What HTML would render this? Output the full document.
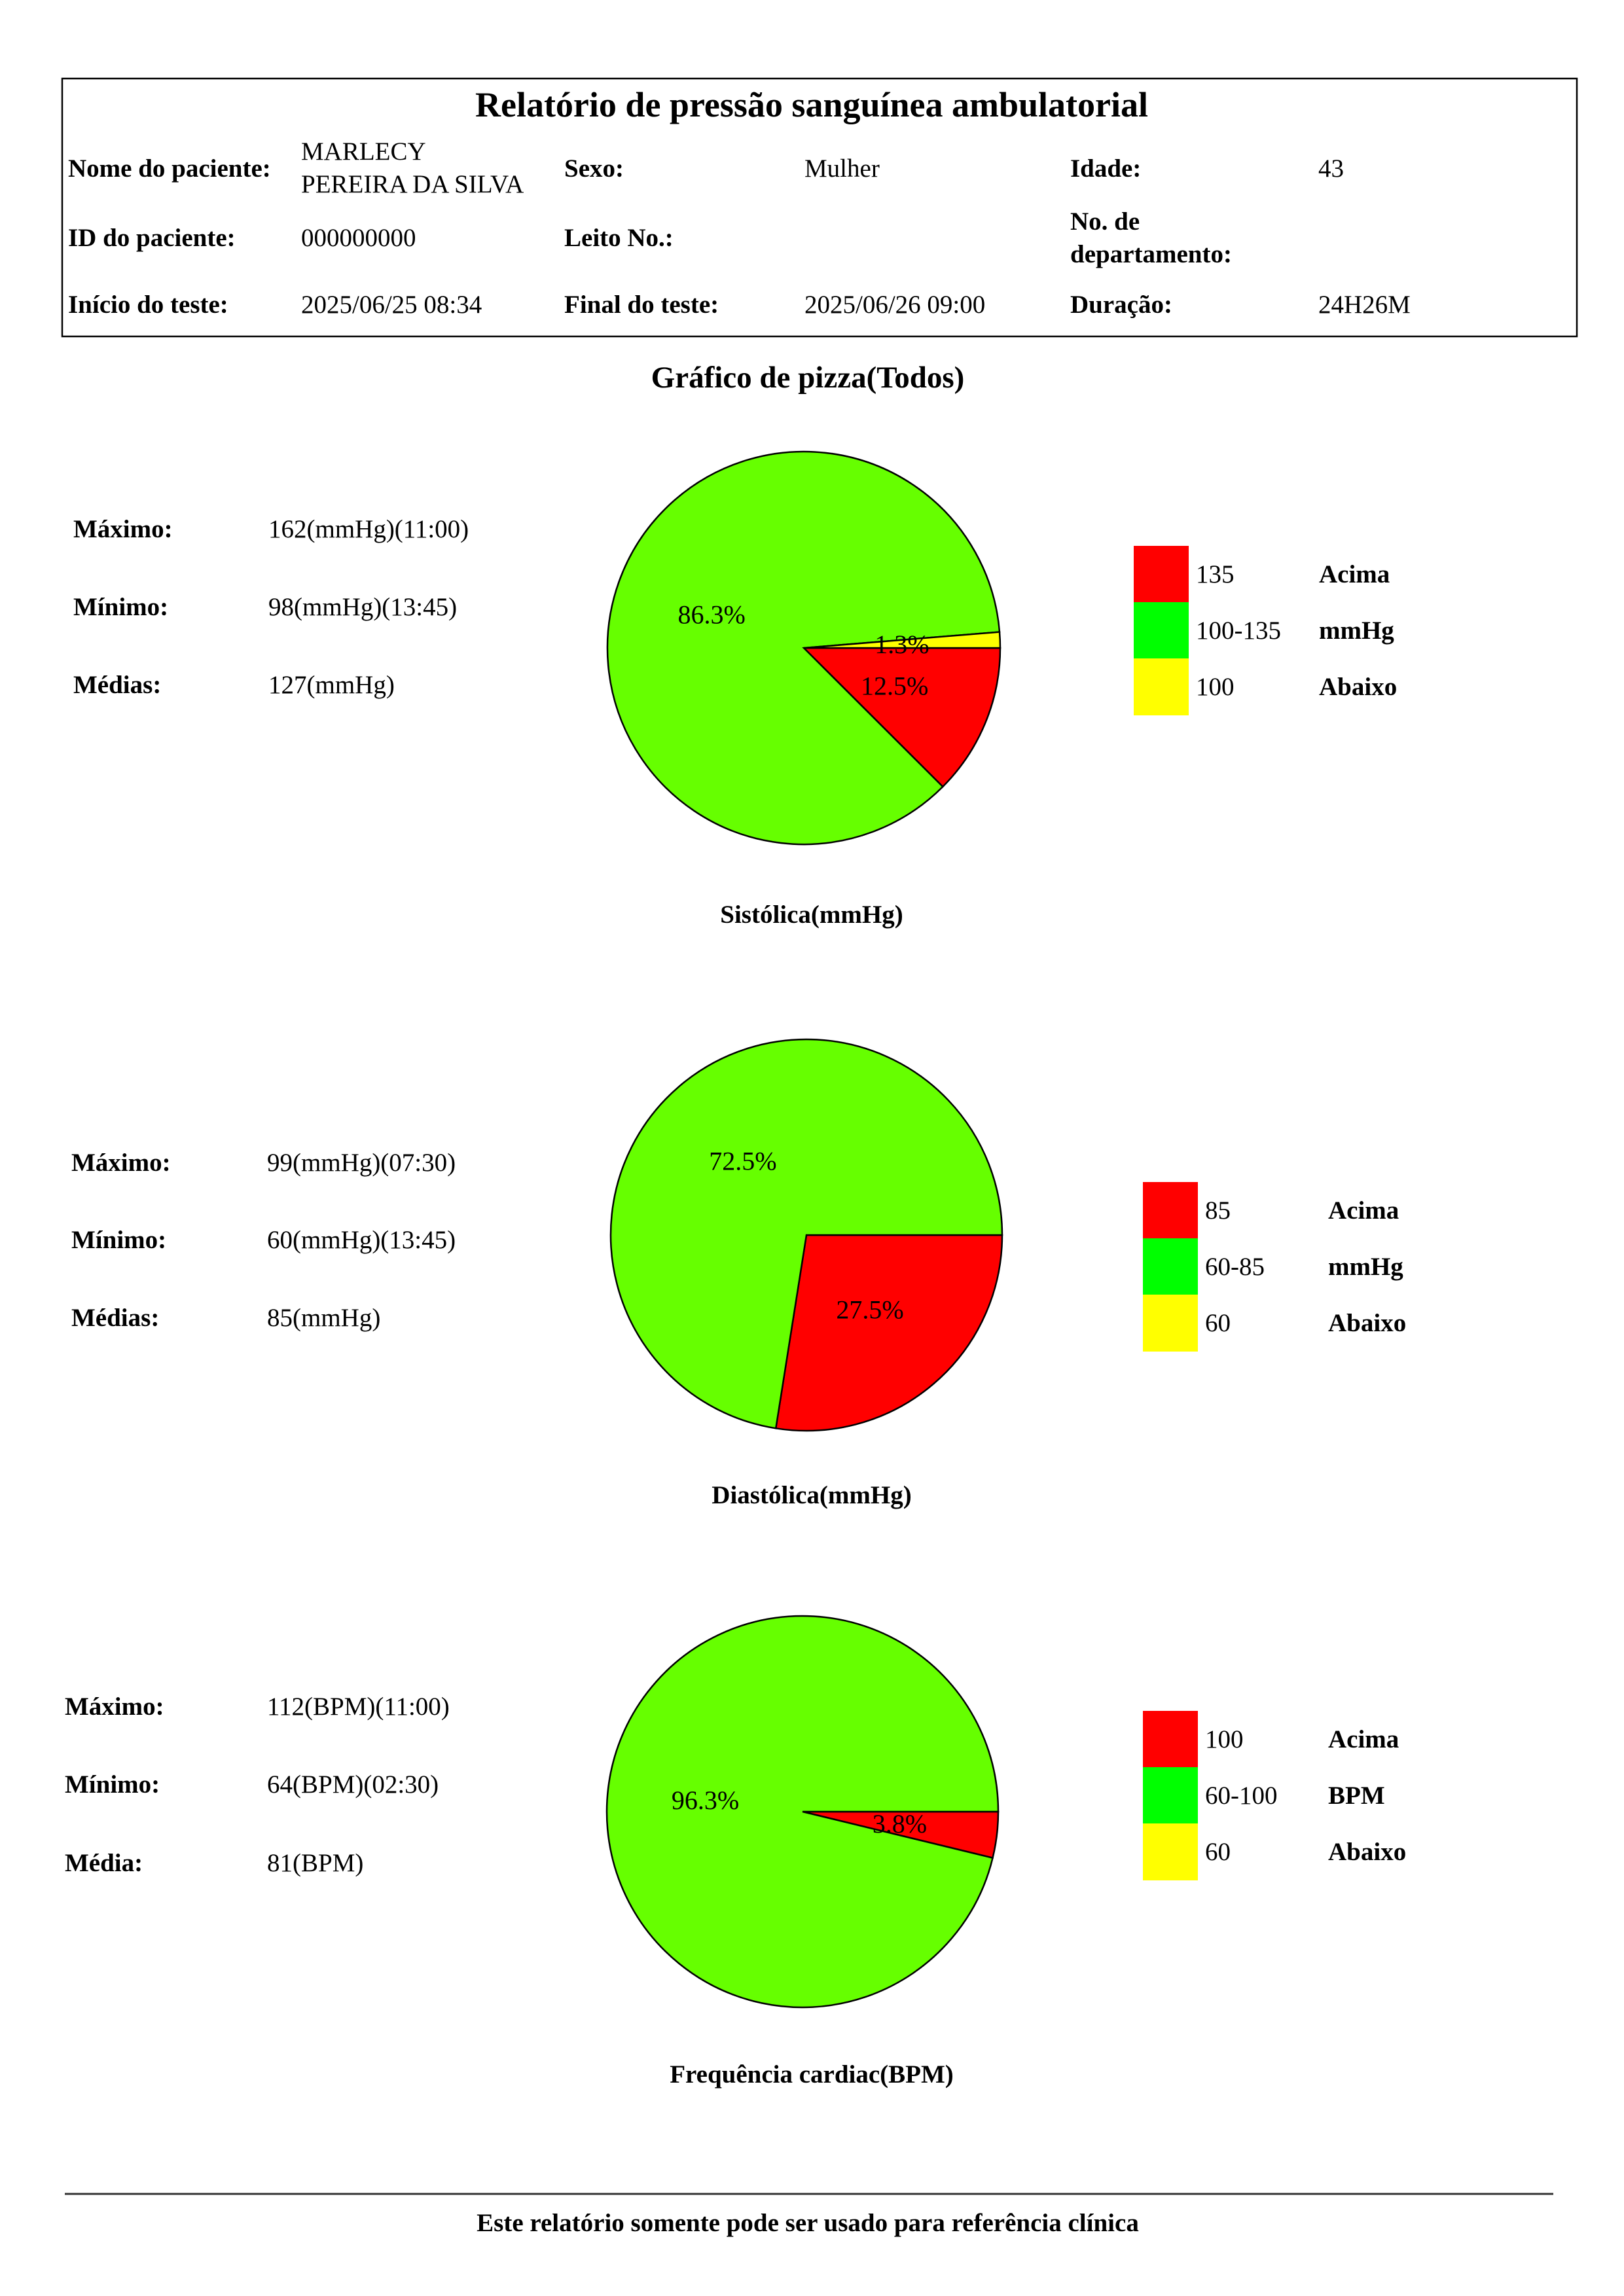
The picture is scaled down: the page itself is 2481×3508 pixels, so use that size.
<!DOCTYPE html>
<html><head><meta charset="utf-8"><style>
html,body{margin:0;padding:0;background:#fff;}
svg{display:block;font-family:"Liberation Serif",serif;}
.b{font-weight:bold;}
</style></head><body>
<svg id="page" width="2481" height="3508" viewBox="0 0 2481 3508" xmlns="http://www.w3.org/2000/svg">
<g>
<rect x="95" y="120" width="2314" height="394" fill="none" stroke="#000" stroke-width="2.5"/>
<text x="1240" y="178" font-size="54" class="b" text-anchor="middle">Relatório de pressão sanguínea ambulatorial</text>
<g font-size="39">
<text x="104" y="270" class="b">Nome do paciente:</text>
<text x="460" y="244"><tspan x="460">MARLECY</tspan><tspan x="460" y="294">PEREIRA DA SILVA</tspan></text>
<text x="862" y="270" class="b">Sexo:</text>
<text x="1229" y="270">Mulher</text>
<text x="1635" y="270" class="b">Idade:</text>
<text x="2014" y="270">43</text>
<text x="104" y="376" class="b">ID do paciente:</text>
<text x="460" y="376">000000000</text>
<text x="862" y="376" class="b">Leito No.:</text>
<text x="1635" y="351" class="b"><tspan x="1635">No. de</tspan><tspan x="1635" y="401">departamento:</tspan></text>
<text x="104" y="478" class="b">Início do teste:</text>
<text x="460" y="478">2025/06/25 08:34</text>
<text x="862" y="478" class="b">Final do teste:</text>
<text x="1229" y="478">2025/06/26 09:00</text>
<text x="1635" y="478" class="b">Duração:</text>
<text x="2014" y="478">24H26M</text>
</g>
</g>
<text x="1234" y="592" font-size="47" class="b" text-anchor="middle">Gráfico de pizza(Todos)</text>
<g id="charts"></g>
<line x1="99" y1="3352" x2="2373" y2="3352" stroke="#333" stroke-width="3"/>
<text x="1234" y="3409" font-size="39" class="b" text-anchor="middle">Este relatório somente pode ser usado para referência clínica</text>
</svg>
<script>
// Chart data
const chartTitles = ["Sistólica(mmHg)", "Diastólica(mmHg)", "Frequência cardiac(BPM)"];
const sliceNames = ["above", "normal", "below"];
const sysValues = [12.5, 86.3, 1.3];
const diaValues = [27.5, 72.5, 0];
const hrValues = [3.8, 96.3, 0];
const sysLegend = ["135", "100-135", "100"];
const diaLegend = ["85", "60-85", "60"];
const hrLegend = ["100", "60-100", "60"];
const legendWords = [["Acima","mmHg","Abaixo"],["Acima","mmHg","Abaixo"],["Acima","BPM","Abaixo"]];
const statLabels = [["Máximo:","Mínimo:","Médias:"],["Máximo:","Mínimo:","Médias:"],["Máximo:","Mínimo:","Média:"]];
const sysStats = ["162(mmHg)(11:00)", "98(mmHg)(13:45)", "127(mmHg)"];
const diaStats = ["99(mmHg)(07:30)", "60(mmHg)(13:45)", "85(mmHg)"];
const hrStats = ["112(BPM)(11:00)", "64(BPM)(02:30)", "81(BPM)"];

const NS = "http://www.w3.org/2000/svg";
const colors = ["#ff0000", "#66ff00", "#ffff00"];
const legendColors = ["#ff0000", "#00ff00", "#ffff00"];
const layout = [
  {cx:1228, cy:990, r:300, statX:112, valX:410, statY:[821,940,1059], legX:1732, legY:834, titleY:1410},
  {cx:1232, cy:1887, r:299, statX:109, valX:408, statY:[1789,1907,2026], legX:1746, legY:1806, titleY:2297},
  {cx:1226, cy:2768, r:299, statX:99, valX:408, statY:[2620,2739,2859], legX:1746, legY:2614, titleY:3182}
];
const allValues = [sysValues, diaValues, hrValues];
const allLegend = [sysLegend, diaLegend, hrLegend];
const allStats = [sysStats, diaStats, hrStats];
const root = document.getElementById('charts');

function mk(tag, attrs){ const e=document.createElementNS(NS,tag); for(const k in attrs) e.setAttribute(k,attrs[k]); return e; }
function angleScale(v,total){ return v/total*2*Math.PI; }

for (let c=0;c<3;c++){
  const L = layout[c], vals = allValues[c];
  const g = mk('g',{});
  
  
  root.appendChild(g);
  const total = vals.reduce((a,b)=>a+b,0);
  let a0 = 0;
  const labels = [];
  vals.forEach((v,i)=>{
    if (v<=0) return;
    const a1 = a0 + angleScale(v,total);
    const x0=L.cx+L.r*Math.cos(a0), y0=L.cy+L.r*Math.sin(a0);
    const x1=L.cx+L.r*Math.cos(a1), y1=L.cy+L.r*Math.sin(a1);
    const large = (a1-a0)>Math.PI?1:0;
    const p = mk('path',{d:`M${L.cx},${L.cy} L${x0},${y0} A${L.r},${L.r} 0 ${large} 1 ${x1},${y1} Z`, fill:colors[i], stroke:'#000','stroke-width':2.5});
    
    
    g.appendChild(p);
    const am=(a0+a1)/2;
    labels.push([L.cx+0.5*L.r*Math.cos(am), L.cy+0.5*L.r*Math.sin(am), v.toFixed(1)+'%', sliceNames[i]]);
    a0=a1;
  });
  labels.forEach(l=>{
    const t = mk('text',{x:l[0], y:l[1]+14, 'font-size':40, 'text-anchor':'middle'});
    t.textContent = l[2];
    
    
    g.appendChild(t);
  });
  for (let i=0;i<3;i++){
    const sl = mk('text',{x:L.statX, y:L.statY[i], 'font-size':39, 'font-weight':'bold'});
    sl.textContent = statLabels[c][i];
    
    
    g.appendChild(sl);
    const sv = mk('text',{x:L.valX, y:L.statY[i], 'font-size':39});
    sv.textContent = allStats[c][i];
    
    
    g.appendChild(sv);
    const y = L.legY + i*86;
    const sq = mk('rect',{x:L.legX, y:y, width:84, height:87, fill:legendColors[i]});
    
    
    g.appendChild(sq);
    const lt = mk('text',{x:L.legX+95, y:y+56, 'font-size':39});
    lt.textContent = allLegend[c][i];
    
    
    g.appendChild(lt);
    const lw = mk('text',{x:L.legX+283, y:y+56, 'font-size':39, 'font-weight':'bold'});
    lw.textContent = legendWords[c][i];
    
    
    g.appendChild(lw);
  }
  const tt = mk('text',{x:1240, y:L.titleY, 'font-size':39, 'font-weight':'bold', 'text-anchor':'middle'});
  tt.textContent = chartTitles[c];
  
  
  g.appendChild(tt);
}
</script>
</body></html>
